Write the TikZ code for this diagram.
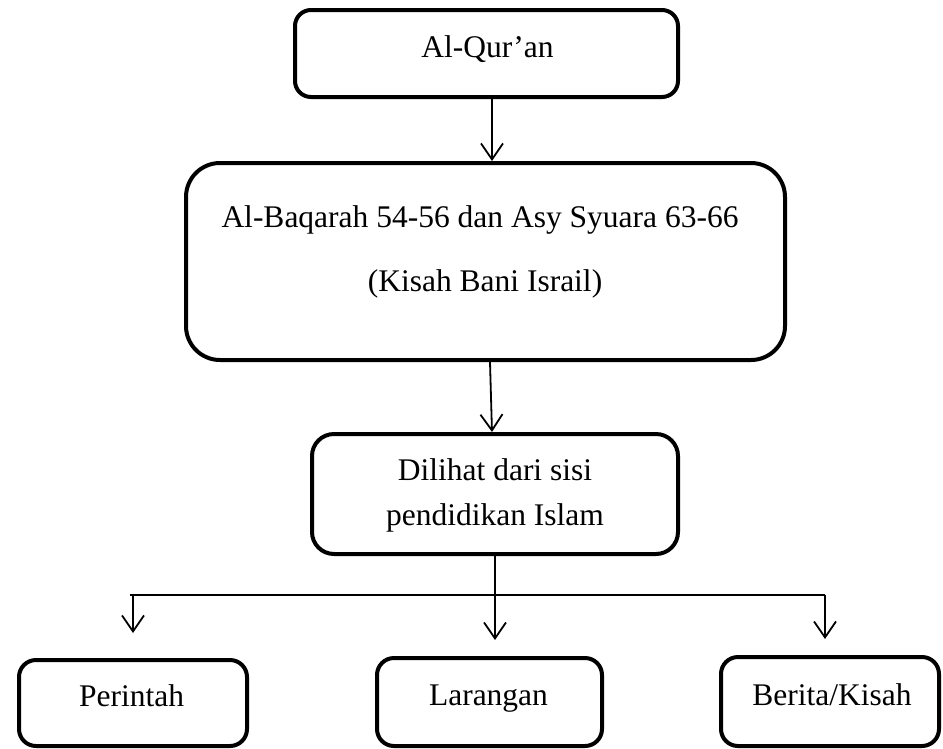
\documentclass[tikz,border=0pt]{standalone}
\usepackage{fontspec}
\setmainfont{Liberation Serif}
\usetikzlibrary{arrows.meta}
\begin{document}
\begin{tikzpicture}[x=1pt,y=-1pt,
  box/.style={draw=black, line width=4pt, fill=white, inner sep=0pt},
  lbl/.style={inner sep=0pt, anchor=base, font=\fontsize{31.5pt}{36pt}\selectfont},
  arr/.style={draw=black, line width=1.8pt, -{Straight Barb[length=16pt,width=22pt,line width=1.8pt]}},
  ln/.style={draw=black, line width=1.8pt}]
\useasboundingbox (0,0) rectangle (943,748);
% boxes
\node[box, rounded corners=16pt, minimum width=383pt, minimum height=87pt] (quran) at (486.5,53.5) {};
\node[box, rounded corners=34pt, minimum width=599pt, minimum height=197pt] (big) at (485.5,261.5) {};
\node[box, rounded corners=22pt, minimum width=366pt, minimum height=120pt] (dil) at (495,494) {};
\node[box, rounded corners=17pt, minimum width=228pt, minimum height=86pt] (per) at (133,703) {};
\node[box, rounded corners=17pt, minimum width=225pt, minimum height=88pt] (lar) at (489.5,702) {};
\node[box, rounded corners=17pt, minimum width=218pt, minimum height=89pt] (ber) at (830,701.5) {};
% texts
\node[lbl] (tquran) at (487.5,57) {Al-Qur’an};
\node[lbl] (tbig1) at (480,227) {Al-Baqarah 54-56 dan Asy Syuara 63-66};
\node[lbl] (tbig2) at (485,291) {(Kisah Bani Israil)};
\node[lbl] (tdil1) at (495,480) {Dilihat dari sisi};
\node[lbl] (tdil2) at (495,525) {pendidikan Islam};
\node[lbl] (tper) at (131.5,706) {Perintah};
\node[lbl] (tlar) at (488.5,705.5) {Larangan};
\node[lbl] (tber) at (832,705.5) {Berita/Kisah};
% helper coordinates
\coordinate (xa) at (492,0);
\coordinate (xb) at (490,0);
\coordinate (xm) at (495,0);
\coordinate (hl) at (130,595);
\coordinate (hr) at (825,595);
\coordinate (la) at (133,595);
\coordinate (lt) at (133,633);
\coordinate (mt) at (495,640);
\coordinate (rt) at (825,639);
% connectors
\draw[arr] (quran.south -| xa) -- (big.north -| xa);
\draw[arr] (big.south -| xb) -- (dil.north -| xa);
\draw[arr] (dil.south -| xm) -- (mt);
\draw[ln] (hl) -- (hr);
\draw[arr] (la) -- (lt);
\draw[arr] (hr) -- (rt);
\end{tikzpicture}
\end{document}
